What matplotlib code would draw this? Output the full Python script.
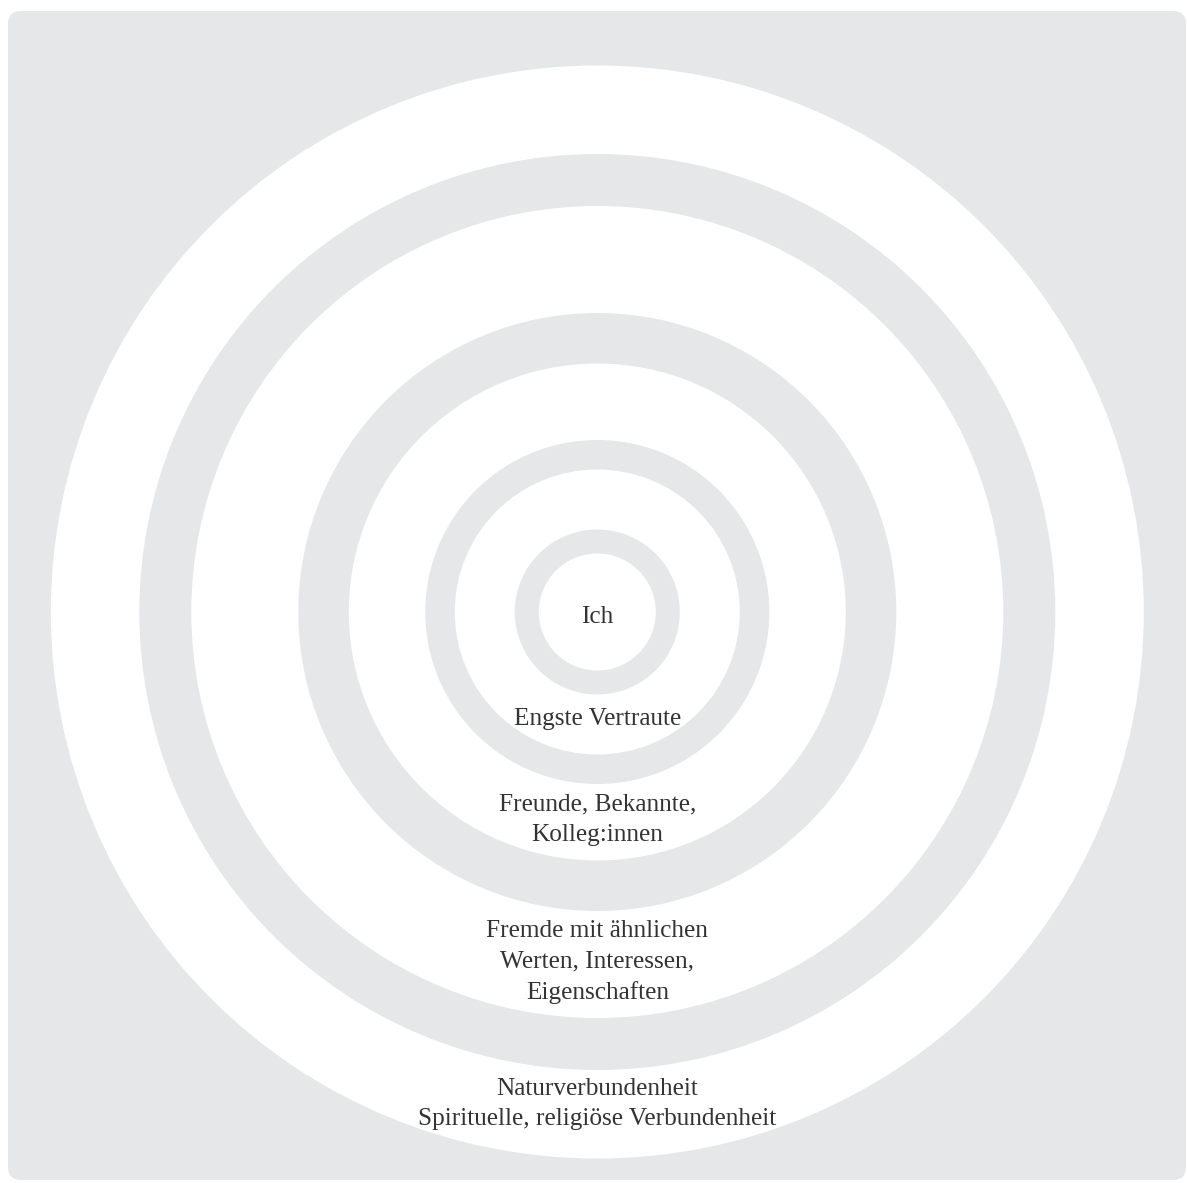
import matplotlib.pyplot as plt
from matplotlib.patches import Circle, FancyBboxPatch

# band edges of the rings (px radius), from outside to inside
# white, gray, white, gray ... alternating
radii = [546.5, 458, 406, 299, 248.5, 172, 142.5, 82.5, 58.5]

labels = [
    "Ich",
    "Engste Vertraute",
    "Freunde, Bekannte,\nKolleg:innen",
    "Fremde mit ähnlichen\nWerten, Interessen,\nEigenschaften",
    "Naturverbundenheit\nSpirituelle, religiöse Verbundenheit",
]
# vertical offset of each label below the centre (px)
label_dy = [5, 107, 208, 350, 492]

grey = "#e6e7e9"
cx, cy = 597.3, 612

fig = plt.figure(figsize=(11.87, 11.83), dpi=100)
ax = fig.add_axes([0, 0, 1, 1])
ax.set_xlim(0, 1187)
ax.set_ylim(1183, 0)
ax.set_aspect("equal")
ax.axis("off")

bg = FancyBboxPatch((8, 11), 1178, 1169, boxstyle="round,pad=0,rounding_size=13",
                    facecolor=grey, edgecolor="none")
ax.add_patch(bg)

for i, r in enumerate(radii):
    col = "white" if i % 2 == 0 else grey
    ax.add_patch(Circle((cx, cy), r, facecolor=col, edgecolor="none"))

for txt, dy in zip(labels, label_dy):
    ax.text(cx, cy + dy, txt, ha="center", va="center", fontsize=18.2,
            family="Liberation Serif", color="#333333", linespacing=1.5)

fig.savefig("out.png", dpi=100)
